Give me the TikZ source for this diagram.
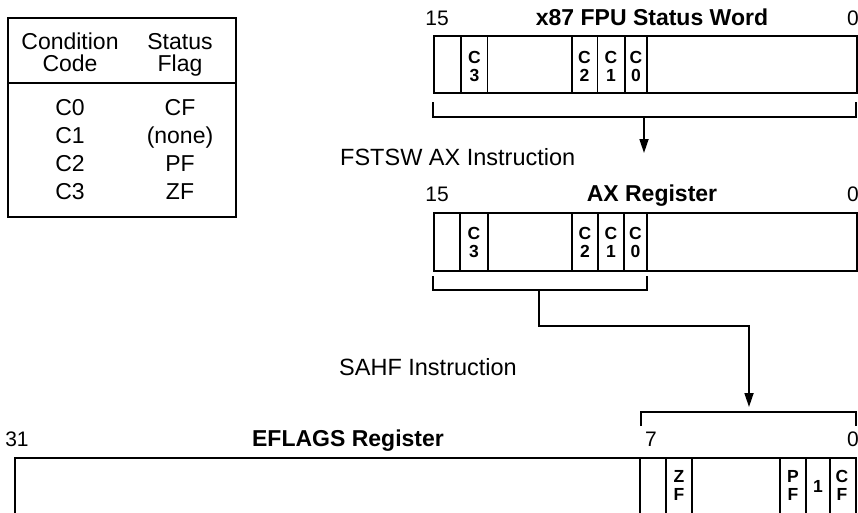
\documentclass[tikz,border=0pt]{standalone}
\usepackage{fontspec}
\setmainfont{Liberation Sans}
\usetikzlibrary{arrows.meta}
\definecolor{ink}{HTML}{000000}
\tikzset{
  tblbox/.style={draw=ink, line width=1.8pt, anchor=north west, inner sep=0pt},
  tblline/.style={draw=ink, line width=1.8pt},
  tbltxt/.style={font=\fontsize{23}{23}\selectfont, text=ink, anchor=base, inner sep=0pt},
  regbox/.style={draw=ink, line width=1.7pt, anchor=north west, inner sep=0pt},
  cell/.style={draw=ink, line width=1.7pt},
  regtitle/.style={font=\fontsize{23}{23}\selectfont\bfseries, text=ink, anchor=base, inner sep=0pt},
  bitnum/.style={font=\fontsize{21}{21}\selectfont, text=ink, anchor=base, inner sep=0pt},
  bitlbl/.style={font=\fontsize{17.5}{18}\selectfont\bfseries, text=ink, align=center, inner sep=0pt},
  instr/.style={font=\fontsize{23.5}{24}\selectfont, text=ink, anchor=base west, inner sep=0pt},
  brace/.style={draw=ink, line width=1.7pt},
  fl/.style={-{Triangle[length=14pt, width=9pt]}, line width=1.7pt, draw=ink},
}
\begin{document}
\begin{tikzpicture}[x=1pt, y=-1pt]
  \useasboundingbox (0,0) rectangle (858,512);
  \clip (0,0) rectangle (858,512);
  % condition code table
  \node[tblbox, minimum width=228pt, minimum height=199pt] (tbl) at (7,17) {};
  \coordinate (sepL) at (7,83); \coordinate (sepR) at (235,83);
  \draw[tblline] (sepL) -- (sepR);
  \node[tbltxt] (hdA1) at (70,49) {Condition};
  \node[tbltxt] (hdA2) at (70,71) {Code};
  \node[tbltxt] (hdB1) at (180,49) {Status};
  \node[tbltxt] (hdB2) at (180,71) {Flag};
  \foreach \ccode/\sflag [count=\i] in {C0/CF, C1/(none), C2/PF, C3/ZF} {
    \node[tbltxt] (cc\i) at (70,87+28*\i) {\ccode};
    \node[tbltxt] (sf\i) at (180,87+28*\i) {\sflag};
  }
  % x87 FPU status word
  \node[bitnum] (fpuHi) at (437,25) {15};
  \node[regtitle] (fpuT) at (652,25) {x87 FPU Status Word};
  \node[bitnum] (fpuLo) at (853,25) {0};
  \node[regbox, minimum width=423pt, minimum height=57pt] (fpu) at (433,35) {};
  \foreach \x in {461,487.5,572,597.5,625,647} \draw[cell] (\x,35) -- (\x,94);
  \foreach \n/\x in {3/474.5, 2/584.5, 1/611, 0/636} \node[bitlbl] (fpuc\n) at (\x,66) {C\\\n};
  % AX register
  \node[bitnum] (axHi) at (437,201) {15};
  \node[regtitle] (axT) at (652,201) {AX Register};
  \node[bitnum] (axLo) at (853,201) {0};
  \node[regbox, minimum width=423pt, minimum height=58pt] (ax) at (433,212) {};
  \foreach \x in {460,488,572,598,624,647} \draw[cell] (\x,212) -- (\x,272);
  \foreach \n/\x in {3/474, 2/585, 1/611, 0/635.5} \node[bitlbl] (axc\n) at (\x,242) {C\\\n};
  % EFLAGS register
  \node[bitnum] (efHi) at (17,446) {31};
  \node[regtitle] (efT) at (348,446) {EFLAGS Register};
  \node[bitnum] (efB7) at (651,446) {7};
  \node[bitnum] (efLo) at (853,446) {0};
  \node[regbox, minimum width=841pt, minimum height=57pt] (efl) at (14,457) {};
  \foreach \x in {640,666,692,780,806,830} \draw[cell] (\x,457) -- (\x,514);
  \node[bitlbl] (efZF) at (679,485) {Z\\F};
  \node[bitlbl] (efPF) at (793,485) {P\\F};
  \node[bitlbl] (efR1) at (818,486) {1};
  \node[bitlbl] (efCF) at (842,485) {C\\F};
  % instructions
  \node[instr] (fstsw) at (340,165) {FSTSW AX Instruction};
  \node[instr] (sahf) at (339,375) {SAHF Instruction};
  % brackets and arrows
  \coordinate (fpuBL) at (433,102); \coordinate (fpuBR) at (856,102);
  \coordinate (fpuBm) at (644,117); \coordinate (axTip) at (644,153);
  \draw[brace] (fpuBL) -- ++(0,15) -| (fpuBR);
  \draw[fl] (fpuBm) -- (axTip);
  \coordinate (axBL) at (433,276); \coordinate (axBR) at (647,276);
  \coordinate (axBm) at (539,290); \coordinate (efTip) at (749,407);
  \draw[brace] (axBL) -- ++(0,14) -| (axBR);
  \draw[fl] (axBm) -- ++(0,36) -| (efTip);
  \coordinate (efBL) at (641,426); \coordinate (efBR) at (856,426);
  \draw[brace] (efBL) -- ++(0,-14) -| (efBR);
\end{tikzpicture}
\end{document}
